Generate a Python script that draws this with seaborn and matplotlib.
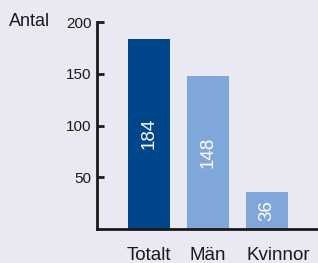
import matplotlib
matplotlib.use("Agg")
import matplotlib.pyplot as plt
import matplotlib.transforms as mtransforms
import seaborn as sns

# data
categories = ["Totalt", "Män", "Kvinnor"]
values = [184, 148, 36]
bar_colors = ["#00468B", "#7FA7D9", "#7FA7D9"]
yticks = [50, 100, 150, 200]

BG = "#E9E9F3"

sns.set_style("white")
plt.rcParams["font.family"] = ["Liberation Sans", "DejaVu Sans"]

fig = plt.figure(figsize=(3.18, 2.63), dpi=100, facecolor=BG)
ax = fig.add_axes([97 / 318, 1 - 229 / 263, 221 / 318, 207 / 263])
ax.set_facecolor(BG)

sns.barplot(x=categories, y=values, hue=categories, palette=bar_colors,
            legend=False, width=0.71, saturation=1, linewidth=0, ax=ax)

for i, v in enumerate(values):
    ax.text(i, v / 2, str(v), rotation=90, ha="center", va="center",
            color="white", fontsize=13.5)

ax.set_ylim(0, 200)
ax.set_xlim(-0.881, 2.864)
ax.set_yticks(yticks)
ax.set_xlabel("")
ax.set_ylabel("")

for side in ("top", "right"):
    ax.spines[side].set_visible(False)
for side in ("left", "bottom"):
    ax.spines[side].set_linewidth(2)
    ax.spines[side].set_color("#1a1a1a")

ax.tick_params(axis="y", left=True, direction="in", length=5, width=2, pad=4,
               labelsize=11, color="#1a1a1a", labelcolor="#1a1a1a")
ax.tick_params(axis="x", length=0, pad=13, labelsize=13.5, labelcolor="#1a1a1a")

# the last category label sits flush with its bar's left edge in the original
last = ax.get_xticklabels()[-1]
last.set_horizontalalignment("left")
last.set_transform(last.get_transform() +
                   mtransforms.ScaledTranslation(-21 / 100, 0, fig.dpi_scale_trans))

fig.text(9 / 318, 1 - 22 / 263, "Antal", ha="left", va="center",
         fontsize=13, color="#1a1a1a")

fig.savefig("out.png", dpi=100, facecolor=BG)
